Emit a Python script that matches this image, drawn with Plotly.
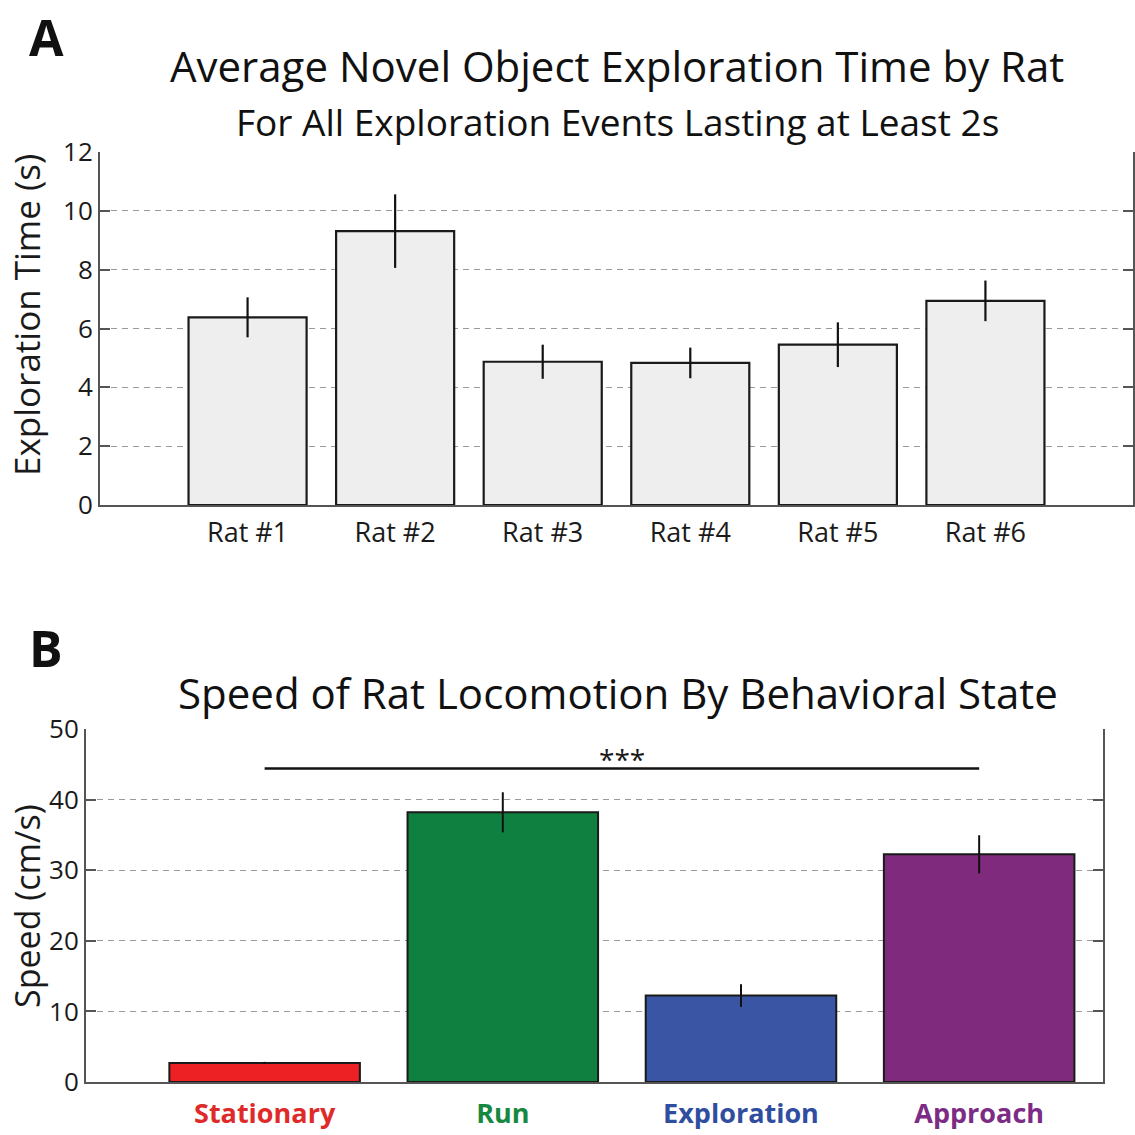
import plotly.graph_objects as go

# ---------------- data ----------------
rats = ["Rat #1", "Rat #2", "Rat #3", "Rat #4", "Rat #5", "Rat #6"]
explore_mean = [6.38, 9.31, 4.87, 4.83, 5.45, 6.94]
explore_err = [0.68, 1.25, 0.58, 0.52, 0.76, 0.69]

states = ["Stationary", "Run", "Exploration", "Approach"]
speed_mean = [2.7, 38.2, 12.25, 32.25]
speed_err = [0.15, 2.84, 1.6, 2.7]
state_colors = ["#ED2024", "#108040", "#3A55A4", "#7F2A7D"]
state_label_colors = ["#DF2A2A", "#16883F", "#2F4E9F", "#7C2C84"]

explore_ticks = [0, 2, 4, 6, 8, 10, 12]
speed_ticks = [0, 10, 20, 30, 40, 50]

W = H = 1135
FONT = "Open Sans"


def px(v):
    return v / W


def py(v):
    return 1 - v / H


fig = go.Figure()

fig.add_trace(go.Bar(
    x=list(range(len(rats))), y=explore_mean,
    error_y=dict(type="data", array=explore_err, color="#111111", thickness=2.2, width=0),
    marker=dict(color="#EDEEED", line=dict(color="#1a1a1a", width=2.2)),
    width=0.8, xaxis="x", yaxis="y", showlegend=False, hoverinfo="y",
))

fig.add_trace(go.Bar(
    x=list(range(len(states))), y=speed_mean,
    error_y=dict(type="data", array=speed_err, color="#111111", thickness=2, width=0),
    marker=dict(color=state_colors, line=dict(color="#1a1a1a", width=2)),
    width=0.8, xaxis="x2", yaxis="y2", showlegend=False, hoverinfo="y",
))

yaxis_common = dict(
    showline=True, linecolor="#555555", linewidth=2, automargin=False,
    tickfont=dict(family=FONT, size=26, color="#1a1a1a"),
    ticks="inside", ticklen=10, tickwidth=2, tickcolor="#555555",
    mirror="ticks", showgrid=True, gridcolor="#9a9a9a", gridwidth=1.3,
    griddash="6px,5px", zeroline=False,
)

fig.update_layout(
    width=W, height=H,
    margin=dict(l=0, r=0, t=0, b=0),
    paper_bgcolor="white", plot_bgcolor="white",
    xaxis=dict(
        domain=[px(100), px(1133)], anchor="y", automargin=False,
        range=[-1, 6], tickvals=list(range(len(rats))), ticktext=rats,
        ticks="", showgrid=False, zeroline=False, ticklabelstandoff=3,
        showline=True, linecolor="#555555", linewidth=2,
        tickfont=dict(family=FONT, size=27, color="#1a1a1a"),
    ),
    yaxis=dict(
        domain=[py(505), py(152)], anchor="x",
        range=[0, 12], tickvals=explore_ticks,
        **yaxis_common,
    ),
    xaxis2=dict(
        domain=[px(86), px(1103)], anchor="y2", automargin=False,
        range=[-0.75, 3.52], tickvals=list(range(len(states))),
        ticktext=[f"<span style='color:{c}'><b>{s}</b></span>" for s, c in zip(states, state_label_colors)],
        ticks="", showgrid=False, zeroline=False, ticklabelstandoff=7,
        showline=True, linecolor="#555555", linewidth=2,
        tickfont=dict(family=FONT, size=27, color="#1a1a1a"),
    ),
    yaxis2=dict(
        domain=[py(1082), py(729)], anchor="x2",
        range=[0, 50], tickvals=speed_ticks,
        **yaxis_common,
    ),
)

# significance bar
fig.add_shape(type="line", xref="x2", yref="y2", x0=0, x1=3, y0=44.4, y1=44.4,
              line=dict(color="#111111", width=2.5))
fig.add_annotation(xref="x2", yref="y2", x=1.5, y=45.75, yanchor="middle",
                   text="***", showarrow=False,
                   font=dict(family=FONT, size=28, color="#1a1a1a"))

anns = [
    dict(text="<b>A</b>", x=px(28), y=py(37), size=50, xanchor="left"),
    dict(text="<b>B</b>", x=px(28), y=py(648), size=50, xanchor="left"),
    dict(text="Average Novel Object Exploration Time by Rat", x=px(617), y=py(66), size=42, xanchor="center"),
    dict(text="For All Exploration Events Lasting at Least 2s", x=px(617), y=py(121), size=37, xanchor="center"),
    dict(text="Speed of Rat Locomotion By Behavioral State", x=px(618), y=py(692), size=42, xanchor="center"),
]
for a in anns:
    fig.add_annotation(xref="paper", yref="paper", x=a["x"], y=a["y"], xanchor=a["xanchor"],
                       yanchor="middle", text=a["text"], showarrow=False, borderpad=0,
                       font=dict(family=FONT, size=a["size"], color="#111111"))

fig.add_annotation(xref="paper", yref="paper", x=px(27), y=py(315), text="Exploration Time (s)",
                   textangle=-90, showarrow=False, xanchor="center", yanchor="middle",
                   font=dict(family=FONT, size=35, color="#1a1a1a"))
fig.add_annotation(xref="paper", yref="paper", x=px(27), y=py(906), text="Speed (cm/s)",
                   textangle=-90, showarrow=False, xanchor="center", yanchor="middle",
                   font=dict(family=FONT, size=34, color="#1a1a1a"))

fig.write_html("out.html")
